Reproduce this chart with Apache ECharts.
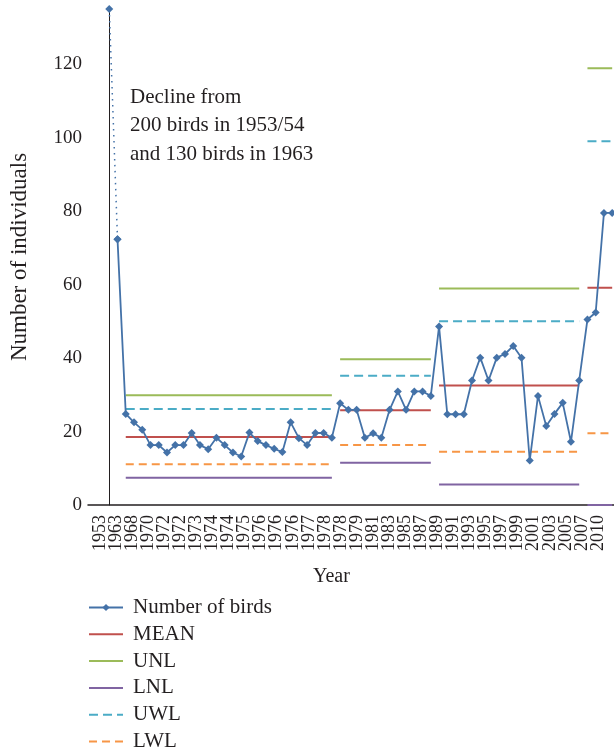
<!DOCTYPE html>
<html>
<head>
<meta charset="utf-8">
<script src="https://cdn.jsdelivr.net/npm/echarts@6/dist/echarts.min.js"></script>
<style>
  html, body { margin: 0; padding: 0; background: #fff; overflow: hidden; }
  #chart { width: 614px; height: 770px; }
</style>
</head>
<body>
<div id="chart"></div>
<script>
// Bird counts, one per survey (index 0 = 1953, drawn at the axis top).
const birds = [
  135, 72.3, 24.8, 22.5, 20.5, 16.3, 16.3, 14.3, 16.3, 16.3,
  19.6, 16.3, 15.2, 18.3, 16.3, 14.3, 13.2, 19.7, 17.4, 16.3,
  15.3, 14.4, 22.5, 18.2, 16.3, 19.6, 19.6, 18.3, 27.7, 25.9,
  25.9, 18.3, 19.5, 18.3, 25.9, 30.9, 25.9, 30.9, 30.9, 29.7,
  48.6, 24.7, 24.7, 24.7, 33.9, 40.1, 33.9, 40.1, 41.1, 43.3,
  40.1, 12.1, 29.7, 21.5, 24.8, 27.8, 17.2, 33.9, 50.5, 52.4,
  79.5, 79.5
];

// x-axis tick labels (every other survey)
const yearLabels = [
  '1953', '1963', '1968', '1970', '1972', '1972', '1973', '1974', '1974', '1975',
  '1976', '1976', '1976', '1977', '1978', '1978', '1979', '1981', '1983', '1985',
  '1987', '1989', '1991', '1993', '1995', '1997', '1999', '2001', '2003', '2005',
  '2007', '2010'
];

// control chart phases: first and last survey index of each
const phaseStart = [2, 28, 40, 58];
const phaseEnd   = [27, 39, 57, 61];
const meanVals = [18.5, 25.8, 32.5, 59.1];
const unlVals  = [29.9, 39.7, 58.9, 118.9];
const lnlVals  = [7.4, 11.5, 5.6, 0];
const uwlVals  = [26.1, 35.2, 50.0, 99.0];
const lwlVals  = [11.1, 16.3, 14.5, 19.5];

const FONT = "'Liberation Serif', 'Times New Roman', serif";
const INK = '#231f20';
const BLUE = '#4472a8';

function phaseData(vals) {
  const out = [];
  phaseStart.forEach((s, p) => {
    if (p > 0) out.push([s - 0.5, '-']);
    for (let i = s; i <= phaseEnd[p]; i++) out.push([i, vals[p]]);
  });
  return out;
}

// limit lines: no symbols, and an invisible itemStyle so the legend shows just the line
function limitSeries(name, vals, color, type) {
  return {
    name, type: 'line', xAxisIndex: 0, yAxisIndex: 0,
    data: phaseData(vals), symbol: 'none', connectNulls: false,
    lineStyle: { color, width: 2, type: type || 'solid' },
    itemStyle: { color, opacity: 0 }, z: 2,
  };
}

const mainData = birds.map((v, i) => [i, v]).slice(1);
const declineData = birds.slice(0, 2).map((v, i) => [i, v]);

// canvas is a bit taller than the 750px window so the legend never wraps
const chart = echarts.init(document.getElementById('chart'), null, { renderer: 'canvas' });
chart.setOption({
  animation: false,
  backgroundColor: '#fff',
  textStyle: { fontFamily: FONT, color: INK },
  grid: [
    { left: 87, right: 0, top: 9, bottom: 265 },
    { left: 100, right: 16, top: 9, bottom: 265 },
  ],
  xAxis: [
    {
      type: 'value', gridIndex: 0, min: -2.58, max: 61.22,
      axisLine: { show: true, onZero: false, lineStyle: { color: INK, width: 1.5 } },
      axisTick: { show: false }, axisLabel: { show: false }, splitLine: { show: false },
    },
    {
      type: 'category', gridIndex: 1, data: yearLabels, boundaryGap: false,
      axisLine: { show: false }, axisTick: { show: false }, splitLine: { show: false },
      axisLabel: {
        interval: 0, rotate: 90, margin: 10,
        fontFamily: FONT, fontSize: 18, color: INK,
      },
    },
  ],
  yAxis: [
    {
      type: 'value', gridIndex: 0, min: 0, max: 135, interval: 20,
      name: 'Number of individuals', nameLocation: 'middle', nameGap: 57, nameRotate: 90,
      nameTextStyle: { fontFamily: FONT, fontSize: 23, color: INK },
      axisLine: { show: true, lineStyle: { color: INK, width: 1 } },
      axisTick: { show: false }, splitLine: { show: false },
      axisLabel: {
        margin: 6, fontFamily: FONT, fontSize: 19, color: INK,
        formatter: (v) => (v % 20 === 0 ? String(v) : ''),
      },
    },
    { type: 'value', gridIndex: 1, show: false },
  ],
  legend: {
    orient: 'vertical', left: 88, top: 597, padding: 0,
    itemWidth: 34, itemHeight: 9, itemGap: 5.8,
    textStyle: { fontFamily: FONT, fontSize: 21, color: INK, padding: [0, 0, 0, 5] },
    data: ['Number of birds', 'MEAN', 'UNL', 'LNL', 'UWL', 'LWL'],
  },
  graphic: [
    {
      type: 'text', left: 130, top: 83,
      style: {
        text: 'Decline from\n200 birds in 1953/54\nand 130 birds in 1963',
        font: '21px ' + FONT, fill: INK, lineHeight: 28.5,
      },
    },
    {
      type: 'text', left: 313, top: 567,
      style: { text: 'Year', font: '20px ' + FONT, fill: INK },
    },
  ],
  series: [
    limitSeries('MEAN', meanVals, '#c0504d'),
    limitSeries('UNL', unlVals, '#9bbb59'),
    limitSeries('LNL', lnlVals, '#8064a2'),
    limitSeries('UWL', uwlVals, '#4bacc6', [9, 5]),
    limitSeries('LWL', lwlVals, '#f79646', [8, 5]),
    {
      name: 'decline', type: 'line', data: declineData,
      symbol: 'diamond', symbolSize: 8,
      lineStyle: { color: BLUE, width: 1.5, type: [1.5, 4.5] },
      itemStyle: { color: BLUE }, z: 3,
    },
    {
      name: 'Number of birds', type: 'line', data: mainData,
      symbol: 'diamond', symbolSize: 8,
      lineStyle: { color: BLUE, width: 1.8 },
      itemStyle: { color: BLUE }, z: 4,
    },
  ],
});
</script>
</body>
</html>
